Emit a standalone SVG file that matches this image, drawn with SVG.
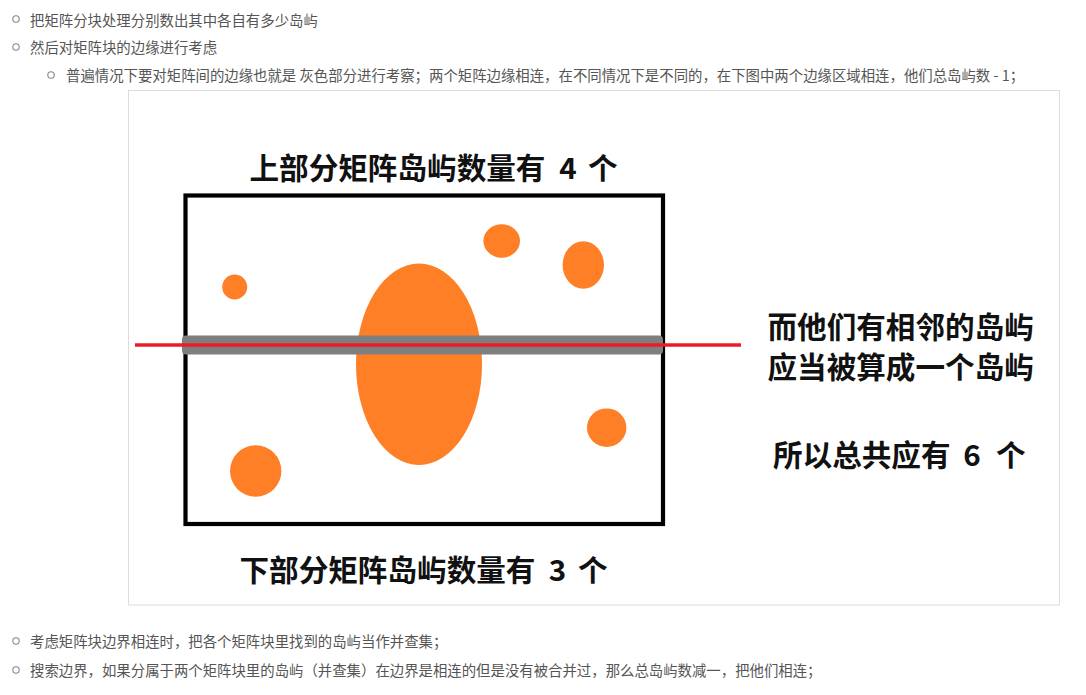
<svg xmlns="http://www.w3.org/2000/svg" width="1086" height="695" viewBox="0 0 1086 695">
<style>
.t{font-family:"Noto Sans CJK SC","Liberation Sans",sans-serif;font-size:14.4px;fill:#555}
.b{fill:none;stroke:#888;stroke-width:1.1}
.h{font-family:"Noto Sans CJK SC","Liberation Sans",sans-serif;font-size:29.6px;font-weight:bold;fill:#111}
.isl{fill:#ff7f27}
</style>
<rect width="1086" height="695" fill="#fff"/>
<g id="bullets">
<circle class="b" cx="16" cy="19" r="3.2"/>
<text class="t" x="30" y="25.5">把矩阵分块处理分别数出其中各自有多少岛屿</text>
<circle class="b" cx="16" cy="47" r="3.2"/>
<text class="t" x="30" y="52.5">然后对矩阵块的边缘进行考虑</text>
<circle class="b" cx="51" cy="75" r="3.2"/>
<text class="t" x="66" y="80.5">普遍情况下要对矩阵间的边缘也就是 灰色部分进行考察；两个矩阵边缘相连，在不同情况下是不同的，在下图中两个边缘区域相连，他们总岛屿数 - 1；</text>
<circle class="b" cx="16" cy="641" r="3.2"/>
<text class="t" x="30" y="646.5">考虑矩阵块边界相连时，把各个矩阵块里找到的岛屿当作并查集；</text>
<circle class="b" cx="16" cy="670" r="3.2"/>
<text class="t" x="30" y="675.5">搜索边界，如果分属于两个矩阵块里的岛屿（并查集）在边界是相连的但是没有被合并过，那么总岛屿数减一，把他们相连；</text>
</g>
<g id="figure-frame">
<rect x="128.5" y="90.5" width="931" height="514.5" fill="#fff" stroke="#ddd" stroke-width="1"/>
</g>
<g id="matrix">
<rect x="185.5" y="195.5" width="477.5" height="328.5" fill="#fff" stroke="#000" stroke-width="4.2"/>
</g>
<g id="islands">
<ellipse class="isl" cx="234.7" cy="287" rx="12.5" ry="12.5"/>
<ellipse class="isl" cx="501.7" cy="241" rx="18.3" ry="16.7"/>
<ellipse class="isl" cx="583.3" cy="265" rx="20.7" ry="23.7"/>
<ellipse class="isl" cx="419" cy="364.3" rx="63" ry="100.7"/>
<ellipse class="isl" cx="606.7" cy="427.7" rx="19.7" ry="19.3"/>
<ellipse class="isl" cx="255.7" cy="471" rx="25.7" ry="25.7"/>
</g>
<g id="connectors">
<rect x="182" y="335.5" width="481" height="19" rx="4" fill="#7f7f7f"/>
<line x1="135" y1="345" x2="741" y2="345" stroke="#ed1c24" stroke-width="3.5"/>
</g>
<g id="label-top">
<text class="h" x="249.5" y="178.5">上部分矩阵岛屿数量有</text>
<text class="h" x="568" y="178.5" text-anchor="middle">4</text>
<text class="h" x="588" y="178.5">个</text>
</g>
<g id="label-bottom">
<text class="h" x="239.5" y="580.5">下部分矩阵岛屿数量有</text>
<text class="h" x="557.5" y="580.5" text-anchor="middle">3</text>
<text class="h" x="578" y="580.5">个</text>
</g>
<g id="label-right">
<text class="h" x="767.5" y="337.5">而他们有相邻的岛屿</text>
<text class="h" x="767.5" y="377.5">应当被算成一个岛屿</text>
<text class="h" x="773" y="465.5">所以总共应有</text>
<text class="h" x="972" y="465.5" text-anchor="middle">6</text>
<text class="h" x="996" y="465.5">个</text>
</g>
</svg>
